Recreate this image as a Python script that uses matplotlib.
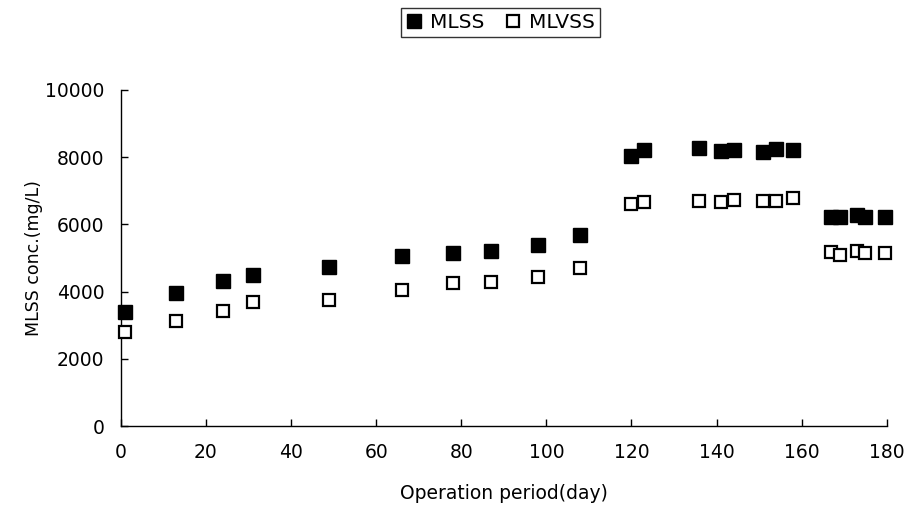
import matplotlib
matplotlib.use("Agg")
import matplotlib.pyplot as plt
from matplotlib.lines import Line2D

plt.rcParams['font.family'] = ['DejaVu Sans']

days = [1, 13, 24, 31, 49, 66, 78, 87, 98, 108,
        120, 123, 136, 141, 144, 151, 154, 158,
        167, 169, 173, 175, 179.5]
mlss = [3400, 3950, 4320, 4510, 4740, 5070, 5140, 5210, 5390, 5680,
        8040, 8220, 8260, 8190, 8200, 8160, 8250, 8220,
        6230, 6230, 6290, 6230, 6230]
mlvss = [2800, 3120, 3420, 3680, 3750, 4050, 4250, 4300, 4440, 4690,
         6600, 6680, 6700, 6670, 6740, 6710, 6710, 6780,
         5170, 5100, 5220, 5150, 5150]

xticks = [0, 20, 40, 60, 80, 100, 120, 140, 160, 180]
yticks = [0, 2000, 4000, 6000, 8000, 10000]

fig = plt.figure(figsize=(9.16, 5.08), dpi=100)
ax = fig.add_axes([0.132, 0.161, 0.836, 0.662])

ax.plot(days, mlss, linestyle='none', marker='s', markersize=10,
        markerfacecolor='black', markeredgecolor='black', clip_on=False, zorder=3)
ax.plot(days, mlvss, linestyle='none', marker='s', markersize=9,
        markerfacecolor='white', markeredgecolor='black', markeredgewidth=1.6,
        clip_on=False, zorder=3)

ax.set_xlim(0, 180)
ax.set_ylim(0, 10000)
ax.set_xticks(xticks)
ax.set_yticks(yticks)
ax.spines['top'].set_visible(False)
ax.spines['right'].set_visible(False)
ax.spines['left'].set_linewidth(1.0)
ax.spines['bottom'].set_linewidth(1.0)
ax.tick_params(direction='in', length=5, width=1, labelsize=13.5)
ax.tick_params(axis='x', pad=12)
ax.tick_params(axis='y', pad=12)
ax.set_xlabel('Operation period(day)', fontsize=13.5, labelpad=16)
ax.set_ylabel('MLSS conc.(mg/L)', fontsize=12.5, labelpad=1)

handles = [Line2D([], [], linestyle='none', marker='s', markersize=10,
                  markerfacecolor='black', markeredgecolor='black'),
           Line2D([], [], linestyle='none', marker='s', markersize=9,
                  markerfacecolor='white', markeredgecolor='black', markeredgewidth=1.6)]
leg = fig.legend(handles, ['MLSS', 'MLVSS'], loc='center', bbox_to_anchor=(0.546, 0.955),
                 ncol=2, frameon=True, fancybox=False, fontsize=14.5,
                 handlelength=0.8, handletextpad=0.4, columnspacing=1.0,
                 borderpad=0.25, borderaxespad=0.0, edgecolor='black')
leg.get_frame().set_linewidth(1.0)

fig.savefig('out.png', dpi=100)
